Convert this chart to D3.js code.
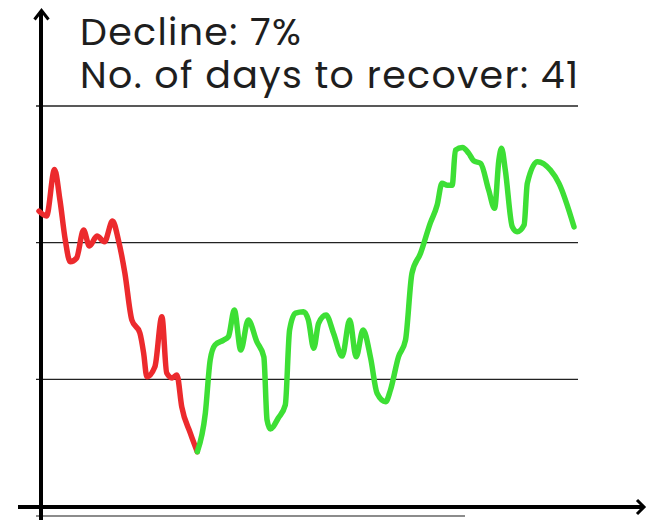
<!DOCTYPE html>
<html>
<head>
<meta charset="utf-8">
<script src="https://cdn.jsdelivr.net/npm/d3@7"></script>
<style>
  html, body { margin: 0; padding: 0; background: #fff; }
  svg { display: block; }
</style>
</head>
<body>
<svg id="chart" width="647" height="520"></svg>
<script>
// ---- data ----
const declineDays = [0, 1.4, 2.9, 3.9, 4.9, 5.8, 7.0, 8.3, 9.4, 10.8, 12.2, 13.7, 14.8, 16.0, 17.3, 18.8, 19.5, 20.1, 21.6, 22.9, 23.8, 24.8, 25.7, 26.6, 28.2, 29.5];
const declineValues = [22.31, 21.95, 25.36, 23.12, 20.19, 18.60, 18.87, 20.92, 19.75, 20.48, 20.07, 21.58, 20.19, 17.78, 14.34, 13.39, 11.92, 10.19, 10.92, 14.58, 10.46, 10.10, 10.31, 8.00, 6.07, 4.70];

const recoveryDays = [29.5, 31.0, 31.9, 32.8, 34.4, 35.3, 36.4, 37.6, 39.0, 40.6, 41.9, 42.5, 43.1, 44.6, 45.9, 46.7, 47.8, 49.3, 50.2, 51.2, 52.1, 53.5, 54.9, 56.5, 57.9, 59.1, 60.4, 61.8, 63.0, 64.6, 65.5, 67.0, 68.3, 69.5, 71.1, 72.9, 74.2, 75.1, 76.1, 77.0, 77.6, 78.9, 80.1, 81.0, 82.3, 83.8, 84.9, 85.7, 86.2, 86.9, 88.2, 89.1, 90.4, 91.0, 92.9, 95.3, 96.9, 99.7];
const recoveryValues = [4.70, 7.53, 11.41, 12.51, 12.87, 13.12, 15.07, 12.14, 14.34, 12.75, 11.65, 7.02, 6.36, 7.17, 8.12, 13.61, 14.85, 14.95, 14.34, 12.27, 14.10, 14.70, 13.36, 11.70, 14.34, 11.65, 13.61, 11.56, 8.98, 8.36, 9.22, 11.65, 12.87, 17.75, 19.22, 21.41, 22.75, 24.34, 24.21, 24.21, 26.77, 26.97, 26.53, 25.99, 25.80, 23.85, 22.51, 26.04, 26.90, 25.31, 21.16, 20.80, 21.29, 24.34, 25.92, 25.31, 24.34, 21.16];

const gridTicks = [0, 10, 20, 30];
const titleLines = ["Decline: 7%", "No. of days to recover: 41"];

// ---- drawing ----
const svg = d3.select("#chart");
const x = d3.scaleLinear().domain([0, 100]).range([39, 575.6]);
const y = d3.scaleLinear().domain([0, 30]).range([516, 106]);

// gridlines
svg.append("g").selectAll("line").data(gridTicks).join("line")
  .attr("x1", 36)
  .attr("x2", d => d === 0 ? 465 : 578)
  .attr("y1", d => y(d)).attr("y2", d => y(d))
  .attr("stroke", d => d === 0 ? "#666" : "#222")
  .attr("stroke-width", 1.3);

// axes
const axisColor = "#000";
svg.append("line").attr("x1", 18).attr("x2", 644).attr("y1", 507).attr("y2", 507)
  .attr("stroke", axisColor).attr("stroke-width", 4);
svg.append("path").attr("d", "M637,500 L644,507 L637,514")
  .attr("fill", "none").attr("stroke", axisColor).attr("stroke-width", 3).attr("stroke-linejoin", "miter");
svg.append("line").attr("x1", 41).attr("x2", 41).attr("y1", 520).attr("y2", 11)
  .attr("stroke", axisColor).attr("stroke-width", 4);
svg.append("path").attr("d", "M34.5,19.5 L41.5,10.5 L48.5,19.5")
  .attr("fill", "none").attr("stroke", axisColor).attr("stroke-width", 3).attr("stroke-linejoin", "miter");

// lines
const line = d3.line().x(d => x(d[0])).y(d => y(d[1])).curve(d3.curveMonotoneX);
svg.append("path")
  .datum(d3.zip(declineDays, declineValues))
  .attr("d", line).attr("fill", "none")
  .attr("stroke", "#ec2a2d").attr("stroke-width", 5.5)
  .attr("stroke-linejoin", "round").attr("stroke-linecap", "round");
svg.append("path")
  .datum(d3.zip(recoveryDays, recoveryValues))
  .attr("d", line).attr("fill", "none")
  .attr("stroke", "#3ddf35").attr("stroke-width", 5.5)
  .attr("stroke-linejoin", "round").attr("stroke-linecap", "round");

// title text
svg.append("g").selectAll("text").data(titleLines).join("text")
  .attr("x", 80)
  .attr("y", (d, i) => i === 0 ? 45 : 87.5)
  .attr("font-family", "Poppins, 'Open Sans', sans-serif")
  .attr("font-size", 38)
  .attr("letter-spacing", 1.3)
  .attr("fill", "#1e1e1e")
  .text(d => d);
</script>
</body>
</html>
